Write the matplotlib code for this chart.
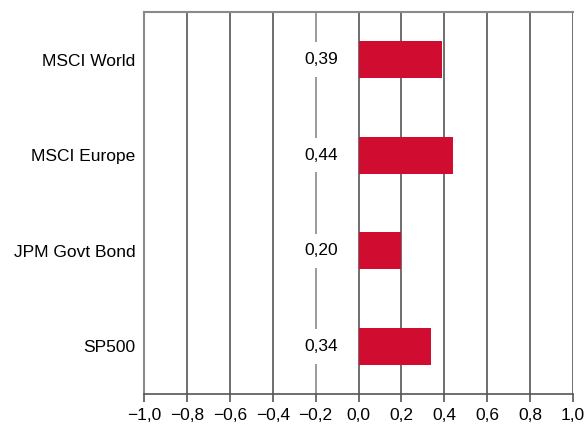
import matplotlib.pyplot as plt
import numpy as np

categories = ["MSCI World", "MSCI Europe", "JPM Govt Bond", "SP500"]
values = [0.39, 0.44, 0.20, 0.34]
xticks = [-1.0, -0.8, -0.6, -0.4, -0.2, 0.0, 0.2, 0.4, 0.6, 0.8, 1.0]

plt.rcParams["font.family"] = ["Liberation Sans", "DejaVu Sans"]

fig = plt.figure(figsize=(5.88, 4.26), dpi=100)
ax = fig.add_axes([0.245, 0.075, 0.7295, 0.897])

y = np.arange(len(categories))
ax.barh(y, values, height=0.39, color="#d00c31", zorder=3)

# vertical grid lines
for xt in xticks:
    col = "#8a8a8a" if xt == -0.2 else "#555555"
    ax.axvline(xt, color=col, lw=1.2, zorder=1)

for yi, v in zip(y, values):
    ax.text(-0.175, yi, f"{v:.2f}".replace(".", ","), ha="center", va="center",
            fontsize=12.5, zorder=4,
            bbox=dict(facecolor="white", edgecolor="none", pad=7))

ax.set_xlim(-1.0, 1.0)
ax.set_ylim(len(categories) - 0.5, -0.5)
ax.set_yticks(y)
ax.set_yticklabels(categories, fontsize=12.5)
ax.set_xticks(xticks)
ax.set_xticklabels([f"{t:.1f}".replace(".", ",").replace("-", "\u2212") for t in xticks],
                   fontsize=12.5)
ax.tick_params(axis="y", length=0, pad=6)
ax.tick_params(axis="x", length=6, width=1.2, color="#555555", pad=4)

for side in ["top", "left"]:
    ax.spines[side].set_color("#8a8a8a")
    ax.spines[side].set_linewidth(1.5)
ax.spines["right"].set_visible(False)
ax.spines["bottom"].set_color("#555555")
ax.spines["bottom"].set_linewidth(1.2)

fig.savefig("out.png", dpi=100)
